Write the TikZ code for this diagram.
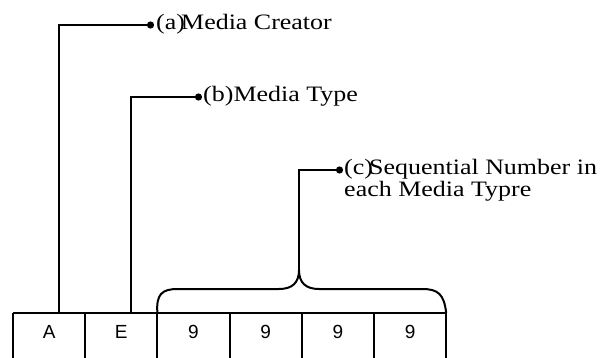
\documentclass[tikz,border=0pt]{standalone}
\usepackage{fontspec}
\setmainfont{Liberation Serif}
\newfontfamily\cellfont{Liberation Sans}
\usetikzlibrary{arrows.meta}
\begin{document}
\begin{tikzpicture}[x=1pt,y=-1pt,
  ln/.style={line width=2pt},
  conn/.style={line width=2pt,-{Circle[length=7pt,width=7pt]}},
  cell/.style={minimum width=71.8pt,minimum height=38pt,inner sep=0pt,anchor=north west,
    font=\cellfont\fontsize{19}{19}\selectfont},
  lab/.style={inner sep=0pt,anchor=base west,align=left,transform shape,xscale=1.18,
    font=\fontsize{22}{22}\selectfont}]
\useasboundingbox (0,0) rectangle (610,358);
% cells
\node[cell] (c1) at (13,313) {A};
\node[cell] (c2) at (c1.north east) {E};
\node[cell] (c3) at (c2.north east) {9};
\node[cell] (c4) at (c3.north east) {9};
\node[cell] (c5) at (c4.north east) {9};
\node[cell] (c6) at (c5.north east) {9};
\coordinate (bot) at (0,362);
\draw[ln] (c1.north west) -- (c6.north east);
\foreach \c in {c1,c2,c3,c4,c5,c6}{
  \draw[ln] (\c.north west) -- (\c.north west |- bot);
}
\draw[ln] (c6.north east) -- (c6.north east |- bot);
% brace
\coordinate (cusp) at (299,270);
\draw[ln] (c3.north west) .. controls (156,294) and (162,289) .. (178,289)
  -- (279,289) .. controls (292,289) and (299,283) .. (cusp)
  .. controls (299,283) and (306,289) .. (319,289)
  -- (422,289) .. controls (438,289) and (444,294) .. (c6.north east);
% labels
\node[lab] (la) at (156,29.5) {(a)\kern-.15em Media Creator};
\node[lab] (lb) at (203,101.5) {(b)Media Type};
\node[lab] (lc) at (344,196.5) {(c)\kern-.15em Sequential Number in\\each Media Typre};
% connectors
\coordinate (aS) at (59,313);
\coordinate (aE) at (154,25);
\coordinate (bS) at (131,313);
\coordinate (bE) at (202,97);
\coordinate (cE) at (343,170);
\draw[conn] (aS) |- (aE);
\draw[conn] (bS) |- (bE);
\draw[conn] (cusp) |- (cE);
\end{tikzpicture}
\end{document}
